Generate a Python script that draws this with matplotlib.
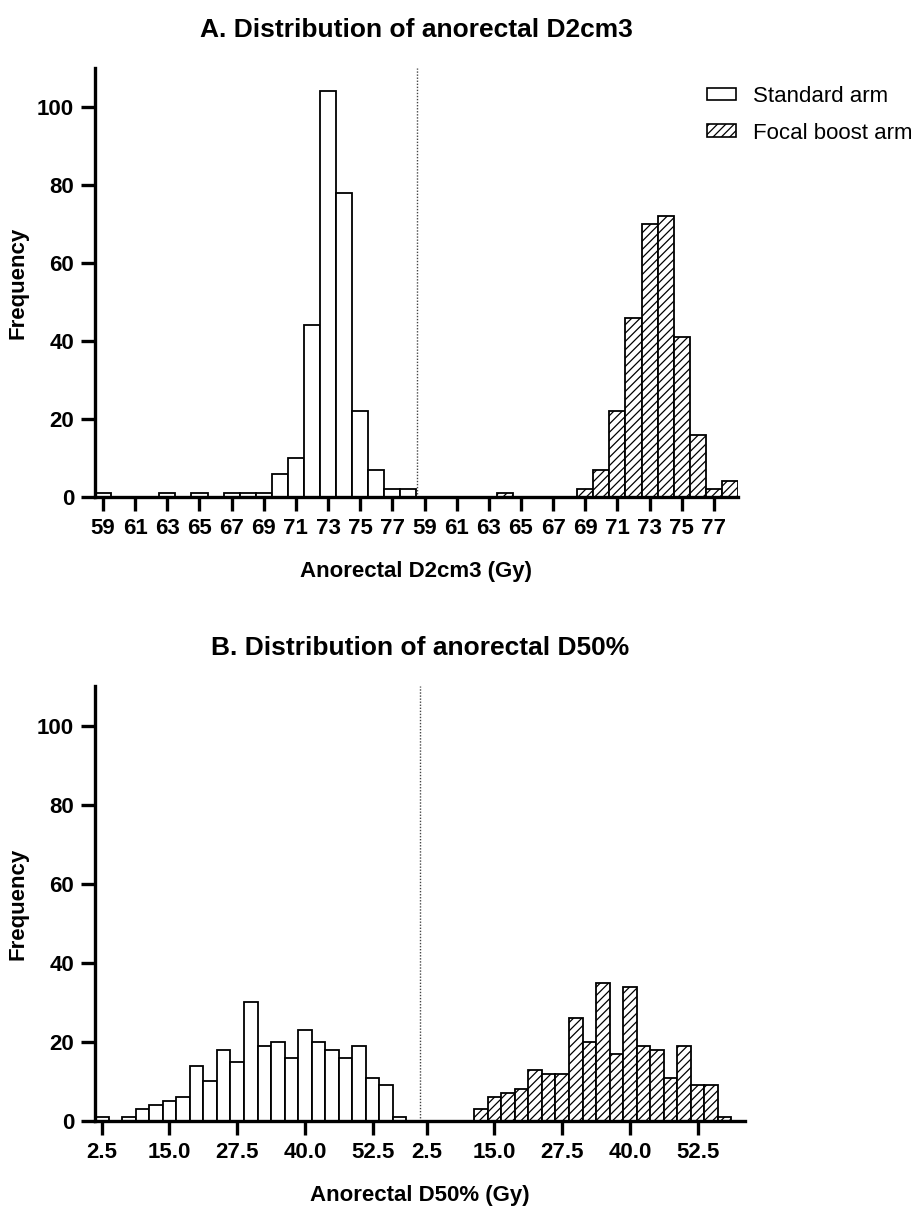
import numpy as np
import matplotlib as m
m.use('Agg')
import matplotlib.pyplot as plt
from matplotlib.patches import Patch

# panel A: anorectal D2cm3, 1 Gy bins 59..78 for each arm
d2_bins = list(range(59, 79))
d2_std = [1, 0, 0, 0, 1, 0, 1, 0, 1, 1, 1, 6, 10, 44, 104, 78, 22, 7, 2, 2]
d2_fb = [0, 0, 0, 0, 0, 1, 0, 0, 0, 0, 2, 7, 22, 46, 70, 72, 41, 16, 2, 4]
d2_ticklabels = ['59', '61', '63', '65', '67', '69', '71', '73', '75', '77']

# panel B: anorectal D50%, 2.5 Gy bins 2.5..60 for each arm
d50_bins = [2.5 * (i + 1) for i in range(24)]
d50_std = [1, 0, 1, 3, 4, 5, 6, 14, 10, 18, 15, 30, 19, 20, 16, 23, 20, 18, 16, 19, 11, 9, 1, 0]
d50_fb = [0, 0, 0, 0, 3, 6, 7, 8, 13, 12, 12, 26, 20, 35, 17, 34, 19, 18, 11, 19, 9, 9, 1, 0]
d50_ticklabels = ['2.5', '15.0', '27.5', '40.0', '52.5']

plt.rcParams['font.family'] = ['Liberation Sans', 'DejaVu Sans']
plt.rcParams['hatch.linewidth'] = 0.9

W, H = 914, 1211
fig = plt.figure(figsize=(W / 100, H / 100), dpi=100)


def panel(rect, std, fb, tick_step, ticklabels, title, xlabel):
  ax = fig.add_axes(rect)
  n = len(std)
  x1 = np.arange(n)
  x2 = np.arange(n) + n
  ax.bar(x1, std, width=1.0, facecolor='white', edgecolor='black', linewidth=1.3)
  ax.bar(x2, fb, width=1.0, facecolor='white', edgecolor='black', linewidth=1.3, hatch='////')
  # dotted separator between the two arms
  ax.axvline(n - 0.5, color='#444444', linestyle=(0, (1, 1.2)), linewidth=1.0, zorder=0)
  ax.set_xlim(-0.5, 2 * n - 0.5)
  ax.set_ylim(0, 110)
  ax.set_yticks([0, 20, 40, 60, 80, 100])
  ticks = list(range(0, n, tick_step))[:len(ticklabels)]
  ax.set_xticks(ticks + [t + n for t in ticks])
  ax.set_xticklabels(ticklabels + ticklabels)
  for s in ['top', 'right']:
    ax.spines[s].set_visible(False)
  for s in ['left', 'bottom']:
    ax.spines[s].set_linewidth(2.4)
  ax.tick_params(length=10, width=2.4, labelsize=16, pad=5)
  for lab in ax.get_xticklabels() + ax.get_yticklabels():
    lab.set_fontweight('bold')
  ax.set_title(title, fontsize=19, fontweight='bold', pad=22)
  ax.set_xlabel(xlabel, fontsize=16, fontweight='bold', labelpad=16)
  ax.set_ylabel('Frequency', fontsize=16, fontweight='bold', labelpad=6)
  return ax


panel([95 / W, 1 - 497 / H, 643 / W, 429 / H], d2_std, d2_fb, 2, d2_ticklabels,
      'A. Distribution of anorectal D2cm3', 'Anorectal D2cm3 (Gy)')
panel([95 / W, 1 - 1121 / H, 650 / W, 435 / H], d50_std, d50_fb, 5, d50_ticklabels,
      'B. Distribution of anorectal D50%', 'Anorectal D50% (Gy)')

handles = [Patch(facecolor='white', edgecolor='black', linewidth=1.2, label='Standard arm'),
           Patch(facecolor='white', edgecolor='black', linewidth=1.2, hatch='////', label='Focal boost arm')]
fig.legend(handles=handles, loc='upper left', bbox_to_anchor=(707 / W, 1 - 86 / H),
           frameon=False, fontsize=16, handlelength=1.3, handleheight=0.5,
           handletextpad=0.75, labelspacing=0.7, borderpad=0, borderaxespad=0)

plt.savefig('out.png', dpi=100)
